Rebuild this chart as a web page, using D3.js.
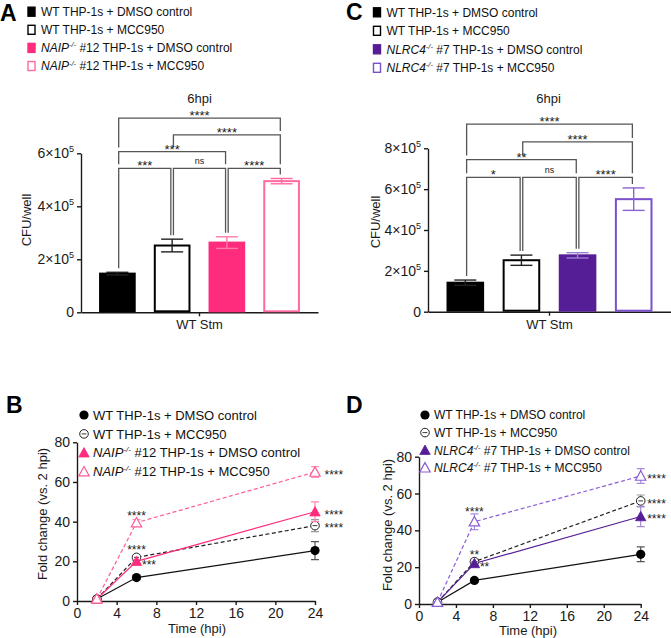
<!DOCTYPE html>
<html>
<head>
<meta charset="utf-8">
<script src="https://cdn.jsdelivr.net/npm/d3@7"></script>
<style>
body { margin: 0; background: #fff; }
svg { display: block; font-family: "Liberation Sans", Arial, Helvetica, sans-serif; }
</style>
</head>
<body>
<svg width="671" height="638"></svg>
<script>
// ---- data: bar panels (6 hpi CFU/well) ----
const barCategory = ["WT Stm"];
const naipLegend = ["WT THP-1s + DMSO control", "WT THP-1s + MCC950", "NAIP-/- #12 THP-1s + DMSO control", "NAIP-/- #12 THP-1s + MCC950"];
const nlrc4Legend = ["WT THP-1s + DMSO control", "WT THP-1s + MCC950", "NLRC4-/- #7 THP-1s + DMSO control", "NLRC4-/- #7 THP-1s + MCC950"];
const naipCfu = [146000, 252000, 263000, 495000];
const naipCfuErr = [5000, 24000, 22000, 10000];
const nlrc4Cfu = [142000, 252000, 276000, 551000];
const nlrc4CfuErr = [13000, 25000, 13000, 55000];
// [from bar, to bar, label, level]
const naipBrackets = [[0, 1, "***", 0], [1, 2, "ns", 0], [2, 3, "****", 0], [0, 2, "***", 1], [1, 3, "****", 2], [0, 3, "****", 3]];
const nlrc4Brackets = [[0, 1, "*", 0], [1, 2, "ns", 0], [2, 3, "****", 0], [0, 2, "**", 1], [1, 3, "****", 2], [0, 3, "****", 3]];

// ---- data: time course (fold change vs 2 hpi) ----
const timeHpi = [2, 6, 24];
const timeTicks = [0, 4, 8, 12, 16, 20, 24];
const foldTicks = [0, 20, 40, 60, 80];
const naipFold = [[1, 11.8, 25.4], [1, 22, 38], [1, 20, 45], [1, 39.5, 65]];
const naipFoldErr = [[0.3, 1, 4.5], [0.3, 1.2, 3], [0.3, 1, 5], [0.3, 1.5, 2.7]];
const nlrc4Fold = [[1, 12.8, 27], [1, 23, 56], [1, 22, 47.5], [1, 44.7, 69.5]];
const nlrc4FoldErr = [[0.3, 1, 4], [0.3, 1.5, 3.2], [0.3, 1, 5.5], [0.3, 4.3, 4]];
const naipSig6 = ["", "****", "***", "****"];
const naipSig24 = ["", "****", "****", "****"];
const nlrc4Sig6 = ["", "**", "**", "****"];
const nlrc4Sig24 = ["", "****", "****", "****"];

const svg = d3.select("svg");
const INK = "#1a1a1a";

// panel letters
[["A", 0, 21], ["C", 346, 20], ["B", 6, 413], ["D", 346, 413]].forEach(([t, x, y]) => {
  svg.append("text").attr("x", x).attr("y", y).attr("font-size", 23).attr("font-weight", "bold").attr("fill", "#000").text(t);
});

// text with italic gene name and -/- superscript
function richLabel(sel, label, fs) {
  const m = label.match(/^(\S+)-\/-(.*)$/);
  if (!m) { sel.text(label); return; }
  sel.append("tspan").attr("font-style", "italic").text(m[1]);
  sel.append("tspan").attr("font-style", "italic").attr("font-size", fs * 0.62).attr("dy", -fs * 0.4).text("-/-");
  sel.append("tspan").attr("dy", fs * 0.4).text(m[2]);
}

function styleAxis(g) {
  g.selectAll(".domain").attr("stroke", INK).attr("stroke-width", 1.4);
  g.selectAll(".tick line").attr("stroke", INK).attr("stroke-width", 1.4);
  g.selectAll(".tick text").attr("font-size", 14).attr("fill", INK).attr("font-family", null);
  g.attr("font-family", null);
}

// ---------------- bar panels ----------------
function barPanel(o) {
  const y = d3.scaleLinear().domain([0, o.yMax]).range([o.y0, o.yTop]);
  const x = d3.scaleBand().domain(d3.range(o.means.length)).range([o.xL, o.xR]).paddingInner(0.33).paddingOuter(0.33);
  const xc = d3.scaleBand().domain(barCategory).range([o.xL, o.xR]);
  const cx = i => x(i) + x.bandwidth() / 2;

  // legend
  const lg = svg.append("g");
  o.legend.forEach((lab, i) => {
    const ry = o.legY + i * o.legStep;
    lg.append("rect").attr("x", o.legX).attr("y", ry - 4.5).attr("width", 7).attr("height", 9)
      .attr("fill", o.fills[i]).attr("stroke", o.strokes[i]).attr("stroke-width", 1.4);
    const t = lg.append("text").attr("x", o.legX + 13).attr("y", ry + 4.3).attr("font-size", 12).attr("fill", "#111");
    richLabel(t, lab, 12);
  });

  svg.append("text").attr("x", (o.xL + o.xR) / 2 + o.titleDx).attr("y", 103).attr("text-anchor", "middle")
    .attr("font-size", 13).attr("fill", INK).text("6hpi");

  // axes
  const ya = svg.append("g").attr("transform", `translate(${o.xL},0)`)
    .call(d3.axisLeft(y).tickValues(d3.range(0, o.yMax + 1, 200000)).tickSize(4).tickSizeOuter(0));
  styleAxis(ya);
  ya.selectAll(".tick text").each(function (d) {
    const t = d3.select(this).text(null);
    if (d === 0) { t.text("0"); return; }
    t.append("tspan").text(`${d / 100000}×10`);
    t.append("tspan").attr("font-size", 9).attr("dy", -6).text("5");
  });
  const xa = svg.append("g").attr("transform", `translate(0,${o.y0})`)
    .call(d3.axisBottom(xc).tickSize(4).tickSizeOuter(0));
  styleAxis(xa);
  xa.selectAll(".tick text").attr("font-size", 13).attr("dy", null).attr("y", 17);

  svg.append("text").attr("transform", `translate(${o.yTitleX},${o.yTitleY}) rotate(-90)`)
    .attr("text-anchor", "middle").attr("font-size", 13).attr("fill", INK).text("CFU/well");

  // bars
  svg.append("g").selectAll("rect").data(o.means).join("rect")
    .attr("x", (d, i) => x(i) + 1).attr("width", x.bandwidth() - 2)
    .attr("y", d => y(d)).attr("height", d => y(0) - y(d) - 1)
    .attr("fill", (d, i) => o.fills[i]).attr("stroke", (d, i) => o.strokes[i]).attr("stroke-width", 2);

  // error bars
  const eg = svg.append("g").attr("stroke-width", 1.4);
  o.means.forEach((m, i) => {
    const c = cx(i), t = y(m + o.errs[i]), b = y(m - o.errs[i]);
    eg.append("line").attr("x1", c).attr("x2", c).attr("y1", t).attr("y2", b).attr("stroke", o.errColors[i]);
    eg.append("line").attr("x1", c - 11).attr("x2", c + 11).attr("y1", t).attr("y2", t).attr("stroke", o.errColors[i]);
    eg.append("line").attr("x1", c - 11).attr("x2", c + 11).attr("y1", b).attr("y2", b).attr("stroke", o.errColors[i]);
  });

  // significance brackets
  const lvlY = l => o.lvl0 - l * o.lvlStep;
  const errTop = i => y(o.means[i] + o.errs[i]);
  const legEnd = (i, lvl) => {
    let lim = errTop(i);
    o.brackets.forEach(([a, b, , l]) => { if (l < lvl && a <= i && i <= b) lim = Math.min(lim, lvlY(l)); });
    return lim - 4;
  };
  const bg = svg.append("g").attr("stroke", "#555").attr("stroke-width", 1.3).attr("fill", "none");
  o.brackets.forEach(([a, b, lab, l]) => {
    const yy = lvlY(l), xa1 = cx(a) + 1.3, xb1 = cx(b) - 1.3;
    bg.append("path").attr("d", `M${xa1},${legEnd(a, l)}V${yy}H${xb1}V${legEnd(b, l)}`);
    const ns = lab === "ns";
    svg.append("text").attr("x", (xa1 + xb1) / 2).attr("y", ns ? yy - 4 : yy + 2)
      .attr("text-anchor", "middle").attr("font-size", ns ? 9 : 13).attr("fill", INK).text(lab);
  });
}

barPanel({
  xL: 81, xR: 318, y0: 312.3, yTop: 153.3, yMax: 600000, titleDx: 0,
  means: naipCfu, errs: naipCfuErr, brackets: naipBrackets, lvl0: 168.3, lvlStep: 16.7,
  fills: ["#000", "#fff", "#ff2c7d", "#fff"], strokes: ["#000", "#000", "#ff2c7d", "#ff6aa2"],
  errColors: ["#222", "#222", "#ff7aa8", "#ff6aa2"],
  legend: naipLegend, legX: 28, legY: 11.7, legStep: 18.1,
  yTitleX: 30.5, yTitleY: 220
});
barPanel({
  xL: 428, xR: 671, y0: 311.7, yTop: 148.3, yMax: 800000, titleDx: -1,
  means: nlrc4Cfu, errs: nlrc4CfuErr, brackets: nlrc4Brackets, lvl0: 177.3, lvlStep: 17.7,
  fills: ["#000", "#fff", "#561e96", "#fff"], strokes: ["#000", "#000", "#561e96", "#7c4fcc"],
  errColors: ["#222", "#222", "#9b80cf", "#8a64d2"],
  legend: nlrc4Legend, legX: 373.5, legY: 12.3, legStep: 18.5,
  yTitleX: 380, yTitleY: 222
});

// ---------------- time-course panels ----------------
function marker(g, kind, color, cx, cy) {
  if (kind === 0) {
    g.append("circle").attr("cx", cx).attr("cy", cy).attr("r", 4.6).attr("fill", "#000");
  } else if (kind === 1) {
    g.append("circle").attr("cx", cx).attr("cy", cy).attr("r", 4.3).attr("fill", "#fff").attr("stroke", "#222").attr("stroke-width", 1);
    g.append("line").attr("x1", cx - 2.4).attr("x2", cx + 2.4).attr("y1", cy).attr("y2", cy).attr("stroke", "#222").attr("stroke-width", 0.9);
  } else {
    const open = kind === 3;
    g.append("path").attr("d", `M${cx},${cy - 5.2}L${cx + 5.2},${cy + 4.2}L${cx - 5.2},${cy + 4.2}Z`)
      .attr("fill", open ? "#fff" : color).attr("stroke", color).attr("stroke-width", open ? 1.2 : 0.8);
  }
}

function linePanel(o) {
  const x = d3.scaleLinear().domain([0, 24]).range([o.xL, o.xR]);
  const y = d3.scaleLinear().domain([0, 80]).range([o.y0, o.yTop]);

  const ya = svg.append("g").attr("transform", `translate(${o.xL},0)`)
    .call(d3.axisLeft(y).tickValues(foldTicks).tickSize(4).tickSizeOuter(0));
  styleAxis(ya);
  const xa = svg.append("g").attr("transform", `translate(0,${o.y0})`)
    .call(d3.axisBottom(x).tickValues(timeTicks).tickSize(4).tickSizeOuter(0));
  styleAxis(xa);
  xa.selectAll(".tick text").attr("dy", null).attr("y", 16.5);

  svg.append("text").attr("transform", `translate(${o.yTitleX},${o.yTitleY}) rotate(-90)`)
    .attr("text-anchor", "middle").attr("font-size", 13).attr("fill", INK).text("Fold change (vs. 2 hpi)");
  svg.append("text").attr("x", o.xTitleX).attr("y", o.xTitleY).attr("text-anchor", "middle")
    .attr("font-size", 13).attr("fill", INK).text("Time (hpi)");

  // legend
  o.legend.forEach((lab, i) => {
    const ry = o.legY + i * o.legStep;
    marker(svg.append("g"), i, o.colors[i], o.legX, ry);
    const t = svg.append("text").attr("x", o.legX + 9).attr("y", ry + o.legFs * 0.36)
      .attr("font-size", o.legFs).attr("fill", "#111");
    richLabel(t, lab, o.legFs);
  });

  const line = d3.line().x((d, i) => x(timeHpi[i])).y(d => y(d));
  o.means.forEach((s, k) => {
    svg.append("path").attr("d", line(s)).attr("fill", "none").attr("stroke", o.colors[k])
      .attr("stroke-width", 1.2).attr("stroke-dasharray", k % 2 ? "4,2.5" : null);
  });
  o.means.forEach((s, k) => {
    const g = svg.append("g");
    s.forEach((v, i) => {
      const px = x(timeHpi[i]), t = y(v + o.errs[k][i]), b = y(v - o.errs[k][i]);
      g.append("path").attr("d", `M${px - 4},${t}H${px + 4}M${px},${t}V${b}M${px - 4},${b}H${px + 4}`)
        .attr("stroke", o.errColors[k]).attr("stroke-width", 1.2).attr("fill", "none");
    });
    s.forEach((v, i) => marker(g, k, o.colors[k], x(timeHpi[i]), y(v)));
  });

  // significance vs WT DMSO
  o.sig6.forEach((lab, k) => {
    if (!lab) return;
    const v = o.means[k][1], px = x(6), py = y(v);
    if (o.sig6Side[k] === "right") {
      svg.append("text").attr("x", px + 5.5).attr("y", py + 7.5).attr("font-size", 12).attr("fill", INK).text(lab);
    } else {
      const top = Math.min(y(v + o.errs[k][1]), py - 5);
      svg.append("text").attr("x", px).attr("y", top + 2).attr("text-anchor", "middle").attr("font-size", 12).attr("fill", INK).text(lab);
    }
  });
  o.sig24.forEach((lab, k) => {
    if (!lab) return;
    svg.append("text").attr("x", x(24) + o.sig24Dx).attr("y", y(o.means[k][2]) + 6.8)
      .attr("font-size", 12).attr("fill", INK).text(lab);
  });
}

linePanel({
  xL: 77, xR: 315, y0: 601, yTop: 442.3,
  means: naipFold, errs: naipFoldErr, sig6: naipSig6, sig24: naipSig24,
  sig6Side: ["", "above", "right", "above"], sig24Dx: 9.5,
  colors: ["#111", "#222", "#ff2c7d", "#ff5c98"],
  errColors: ["#555", "#999", "#ff86b1", "#ff8fb7"],
  legend: naipLegend, legX: 84, legY: 415, legStep: 18.9, legFs: 13,
  yTitleX: 47, yTitleY: 514, xTitleX: 197, xTitleY: 633
});
linePanel({
  xL: 419, xR: 640.7, y0: 604, yTop: 456.7,
  means: nlrc4Fold, errs: nlrc4FoldErr, sig6: nlrc4Sig6, sig24: nlrc4Sig24,
  sig6Side: ["", "above", "right", "above"], sig24Dx: 6.5,
  colors: ["#111", "#222", "#561e96", "#8a5cd6"],
  errColors: ["#555", "#999", "#a58bd6", "#a98ee0"],
  legend: nlrc4Legend, legX: 425, legY: 415, legStep: 17.6, legFs: 12,
  yTitleX: 392, yTitleY: 525, xTitleX: 528, xTitleY: 635
});
</script>
</body>
</html>
